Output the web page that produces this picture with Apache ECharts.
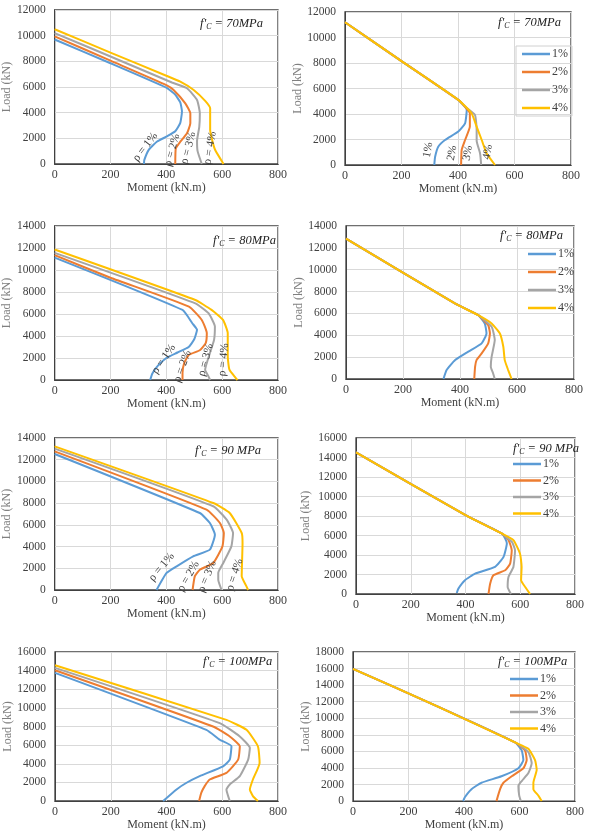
<!DOCTYPE html>
<html>
<head>
<meta charset="utf-8">
<script src="https://cdn.jsdelivr.net/npm/echarts@6/dist/echarts.min.js"></script>
<style>
  html, body { margin: 0; padding: 0; background: #fff; }
  #chart { width: 590px; height: 832px; }
</style>
</head>
<body>
<div id="chart"></div>
<script>
var NAMES = ['1%', '2%', '3%', '4%'];
var COLORS = ['#5B9BD5', '#ED7D31', '#A5A5A5', '#FFC000'];

// fc = 70 MPa, left panel (Moment kN.m, Load kN)
var fc70a_1 = [[0,9700],[200,7850],[400,5950],[430,5450],[450,4800],[456,4100],[450,3200],[432,2550],[402,2150],[367,1750],[337,1100],[321,300],[320,0]];
var fc70a_2 = [[0,9950],[200,8050],[400,6150],[426,5770],[468,4730],[486,3950],[486,3170],[474,2390],[450,1740],[434,1220],[432,0]];
var fc70a_3 = [[0,10200],[200,8380],[420,6350],[474,5900],[510,4990],[520,3950],[518,2900],[510,1800],[512,1000],[527,0]];
var fc70a_4 = [[0,10500],[200,8680],[400,6880],[450,6420],[498,5770],[540,4900],[557,4340],[557,2650],[565,1800],[575,1090],[605,0]];

// fc = 70 MPa, right panel: shared straight part then the branches
var fc70b_line = [[0,11200],[200,8150],[401,5110]];
var fc70b_1 = [[431,4320],[425,3270],[401,2620],[354,1960],[330,1440],[319,650],[316,0]];
var fc70b_2 = [[413,4850],[442,4060],[442,3010],[425,1960],[413,1180],[411,0]];
var fc70b_3 = [[425,4580],[460,3930],[466,2750],[466,1900],[478,920],[482,0]];
var fc70b_4 = [[448,4060],[466,3010],[484,1960],[501,920],[531,0]];

// fc = 80 MPa
var fc80a_1 = [[0,11130],[458,6370],[493,5160],[510,4560],[500,3700],[480,3000],[440,2500],[400,2000],[370,1300],[350,600],[342,0]];
var fc80a_2 = [[0,11350],[200,9300],[481,6670],[527,5460],[545,4250],[541,3350],[520,2700],[481,2290],[464,1540],[458,630],[458,0]];
var fc80a_3 = [[0,11560],[504,6970],[551,6070],[574,4860],[571,3650],[556,2440],[539,940],[551,330],[557,0]];
var fc80a_4 = [[0,11860],[504,7270],[562,6370],[603,5460],[620,4250],[620,2140],[626,940],[649,180],[655,0]];

var fc80b_line = [[0,12840],[382,6910],[464,5840]];
var fc80b_1 = [[487,5080],[493,4170],[476,3260],[429,2500],[383,1730],[353,820],[342,0]];
var fc80b_2 = [[499,4930],[505,4170],[499,3260],[476,2340],[458,1730],[453,1130],[450,0]];
var fc80b_3 = [[511,4780],[522,3560],[511,2040],[508,1130],[516,520],[522,0]];
var fc80b_4 = [[511,5080],[540,4170],[552,2950],[557,1730],[569,820],[581,0]];

// fc = 90 MPa
var fc90a_1 = [[0,12530],[520,7090],[556,6170],[574,5100],[556,3720],[496,3100],[437,2180],[401,1570],[365,0]];
var fc90a_2 = [[0,12770],[544,7400],[592,6170],[606,5250],[601,4020],[568,2490],[520,1870],[502,1260],[494,0]];
var fc90a_3 = [[0,13020],[568,7710],[616,6480],[639,5250],[633,4020],[604,2490],[586,1570],[586,950],[598,0]];
var fc90a_4 = [[0,13230],[568,8010],[627,7090],[670,5250],[673,4330],[670,1260],[687,340],[693,0]];

var fc90b_line = [[0,14520],[400,8100],[532,6210]];
var fc90b_1 = [[545,5700],[551,5180],[539,3810],[508,2780],[435,2090],[398,1410],[374,550],[368,100]];
var fc90b_2 = [[557,5530],[569,4500],[563,3120],[545,2440],[502,1920],[490,1060],[484,0]];
var fc90b_3 = [[569,5360],[581,4500],[575,2780],[557,1750],[554,720],[566,0]];
var fc90b_4 = [[575,5530],[599,4150],[605,2780],[603,1410],[618,720],[636,0]];

// fc = 100 MPa
var fc100a_1 = [[0,13760],[543,7640],[591,6580],[633,5870],[627,4440],[603,3730],[519,2670],[472,1960],[436,1240],[388,0]];
var fc100a_2 = [[0,14040],[567,8000],[627,6930],[663,5870],[657,4440],[615,3020],[555,2310],[537,1600],[525,890],[517,0]];
var fc100a_3 = [[0,14290],[591,8360],[663,6930],[699,5690],[693,4440],[663,2670],[627,1780],[615,1240],[627,0]];
var fc100a_4 = [[0,14580],[615,8710],[687,7640],[728,5870],[734,4090],[710,2310],[699,1240],[710,530],[728,0]];

var fc100b_line = [[0,15970],[300,11500],[584,7090]];
var fc100b_1 = [[608,6120],[614,4950],[596,3970],[535,3000],[463,2220],[427,1440],[403,470],[397,0]];
var fc100b_2 = [[620,6120],[626,4950],[614,3970],[572,3000],[542,2220],[530,1440],[517,0]];
var fc100b_3 = [[632,5920],[644,4560],[632,3390],[608,2420],[596,1830],[599,660],[605,0]];
var fc100b_4 = [[632,6310],[656,4950],[662,3780],[650,2220],[650,1440],[668,660],[680,0]];

var yMaxes = [12000, 12000, 14000, 14000, 14000, 16000, 16000, 18000];
var fcTexts = ['= 70MPa', '= 70MPa', '= 80MPa', '= 80MPa', '= 90 MPa', '= 90 MPa', '= 100MPa', '= 100MPa'];

var curves = [
  [fc70a_1, fc70a_2, fc70a_3, fc70a_4],
  [fc70b_line.concat(fc70b_1), fc70b_line.concat(fc70b_2), fc70b_line.concat(fc70b_3), fc70b_line.concat(fc70b_4)],
  [fc80a_1, fc80a_2, fc80a_3, fc80a_4],
  [fc80b_line.concat(fc80b_1), fc80b_line.concat(fc80b_2), fc80b_line.concat(fc80b_3), fc80b_line.concat(fc80b_4)],
  [fc90a_1, fc90a_2, fc90a_3, fc90a_4],
  [fc90b_line.concat(fc90b_1), fc90b_line.concat(fc90b_2), fc90b_line.concat(fc90b_3), fc90b_line.concat(fc90b_4)],
  [fc100a_1, fc100a_2, fc100a_3, fc100a_4],
  [fc100b_line.concat(fc100b_1), fc100b_line.concat(fc100b_2), fc100b_line.concat(fc100b_3), fc100b_line.concat(fc100b_4)]
];

// rotated curve labels: [panel, series, moment, load, rotate, text]
var curveLabels = [
  [0,0,325,1320,52,'ρ = 1%'],[0,1,421,1090,75,'ρ = 2%'],[0,2,479,1250,75,'ρ = 3%'],[0,3,557,1250,80,'ρ = 4%'],
  [1,0,294,1180,80,'1%'],[1,1,379,940,80,'2%'],[1,2,435,940,80,'3%'],[1,3,506,1020,80,'4%'],
  [2,0,391,1900,55,'ρ = 1%'],[2,1,458,1240,70,'ρ = 2%'],[2,2,541,1840,75,'ρ = 3%'],[2,3,605,1840,85,'ρ = 4%'],
  [4,0,383,2120,50,'ρ = 1%'],[4,1,479,1260,60,'ρ = 2%'],[4,2,546,1260,68,'ρ = 3%'],[4,3,645,1410,72,'ρ = 4%']
];

var grids = [
  {left: 54, top: 10, width: 224, height: 154},
  {left: 345, top: 12, width: 226, height: 153},
  {left: 48, top: 226, width: 230, height: 154},
  {left: 346, top: 226, width: 228, height: 153},
  {left: 54, top: 438, width: 224, height: 152},
  {left: 356, top: 438, width: 219, height: 156},
  {left: 55, top: 652, width: 223, height: 150},
  {left: 353, top: 652, width: 222, height: 154}
];
var xNameGaps = [18, 17, 10, 12, 14, 10, 18, 14];
var yNameGaps = [40, 33, 34, 34, 40, 44, 41, 41];
var fcPos = [[200,17],[498,16],[213,234],[500,229],[195,444],[513,442],[203,655],[498,655]];
var legendPos = [null, [516,46], null, [528,248], null, [513,458], null, [510,673]];
var legendGaps = [0, 6, 0, 6, 0, 4.5, 0, 4.5];

var FONT = 'Liberation Serif';
var grid = [], xAxis = [], yAxis = [], series = [], title = [], legend = [];
var plain = function (v) { return String(v); };

for (var p = 0; p < 8; p++) {
  grid.push(Object.assign({show: true, borderColor: '#404040', borderWidth: 1.3, backgroundColor: '#fff'}, grids[p]));
  xAxis.push({
    type: 'value', gridIndex: p, min: 0, max: 800, interval: 200,
    name: 'Moment (kN.m)', nameLocation: 'middle', nameGap: xNameGaps[p],
    nameTextStyle: {fontFamily: FONT, fontSize: 12, color: '#404040'},
    axisLine: {show: true, lineStyle: {color: '#404040'}},
    axisTick: {show: false},
    axisLabel: {fontFamily: FONT, fontSize: 12, color: '#404040', margin: 5, formatter: plain},
    splitLine: {show: true, lineStyle: {color: '#d9d9d9'}}
  });
  yAxis.push({
    type: 'value', gridIndex: p, min: 0, max: yMaxes[p], interval: 2000,
    name: 'Load (kN)', nameLocation: 'middle', nameGap: yNameGaps[p],
    nameTextStyle: {fontFamily: FONT, fontSize: 12, color: '#808080'},
    axisLine: {show: true, lineStyle: {color: '#404040'}},
    axisTick: {show: false},
    axisLabel: {fontFamily: FONT, fontSize: 11.5, color: '#404040', margin: 9, formatter: plain},
    splitLine: {show: true, lineStyle: {color: '#d9d9d9'}}
  });
  for (var s = 0; s < 4; s++) {
    var marks = curveLabels.filter(function (l) { return l[0] === p && l[1] === s; }).map(function (l) {
      return {
        coord: [l[2], l[3]],
        label: {show: true, position: 'inside', formatter: l[5], rotate: l[4],
          fontFamily: FONT, fontSize: 11.5, color: '#404040'}
      };
    });
    series.push({
      name: NAMES[s], type: 'line', xAxisIndex: p, yAxisIndex: p,
      data: curves[p][s], showSymbol: false, smooth: 0.15,
      lineStyle: {width: 2, color: COLORS[s]}, itemStyle: {color: COLORS[s]},
      markPoint: marks.length ? {symbol: 'circle', symbolSize: 1, itemStyle: {color: 'rgba(0,0,0,0)'}, data: marks} : undefined
    });
  }
  title.push({
    left: fcPos[p][0], top: fcPos[p][1], padding: 0,
    text: "{i|f'}{s|C}{i| " + fcTexts[p] + '}',
    textStyle: {
      fontWeight: 'normal',
      rich: {
        i: {fontFamily: FONT, fontStyle: 'italic', fontWeight: 'normal', fontSize: 12.5, color: '#222'},
        s: {fontFamily: FONT, fontStyle: 'italic', fontWeight: 'normal', fontSize: 8, color: '#222', padding: [6, 0, 0, 0]}
      }
    }
  });
  if (legendPos[p]) {
    legend.push({
      left: legendPos[p][0], top: legendPos[p][1], orient: 'vertical',
      data: NAMES, icon: 'rect', itemWidth: 28, itemHeight: 2.5, itemGap: legendGaps[p],
      padding: p === 1 ? [2, 4, 2, 6] : 0,
      borderColor: p === 1 ? '#d0d0d0' : 'transparent', borderWidth: p === 1 ? 1 : 0,
      selectedMode: false,
      textStyle: {fontFamily: FONT, fontSize: 12, color: '#404040', padding: [0, 0, 0, -3]}
    });
  }
}

var chart = echarts.init(document.getElementById('chart'), null, {renderer: 'canvas'});
chart.setOption({
  animation: false,
  backgroundColor: '#fff',
  title: title,
  legend: legend,
  grid: grid,
  xAxis: xAxis,
  yAxis: yAxis,
  series: series
});
</script>
</body>
</html>
